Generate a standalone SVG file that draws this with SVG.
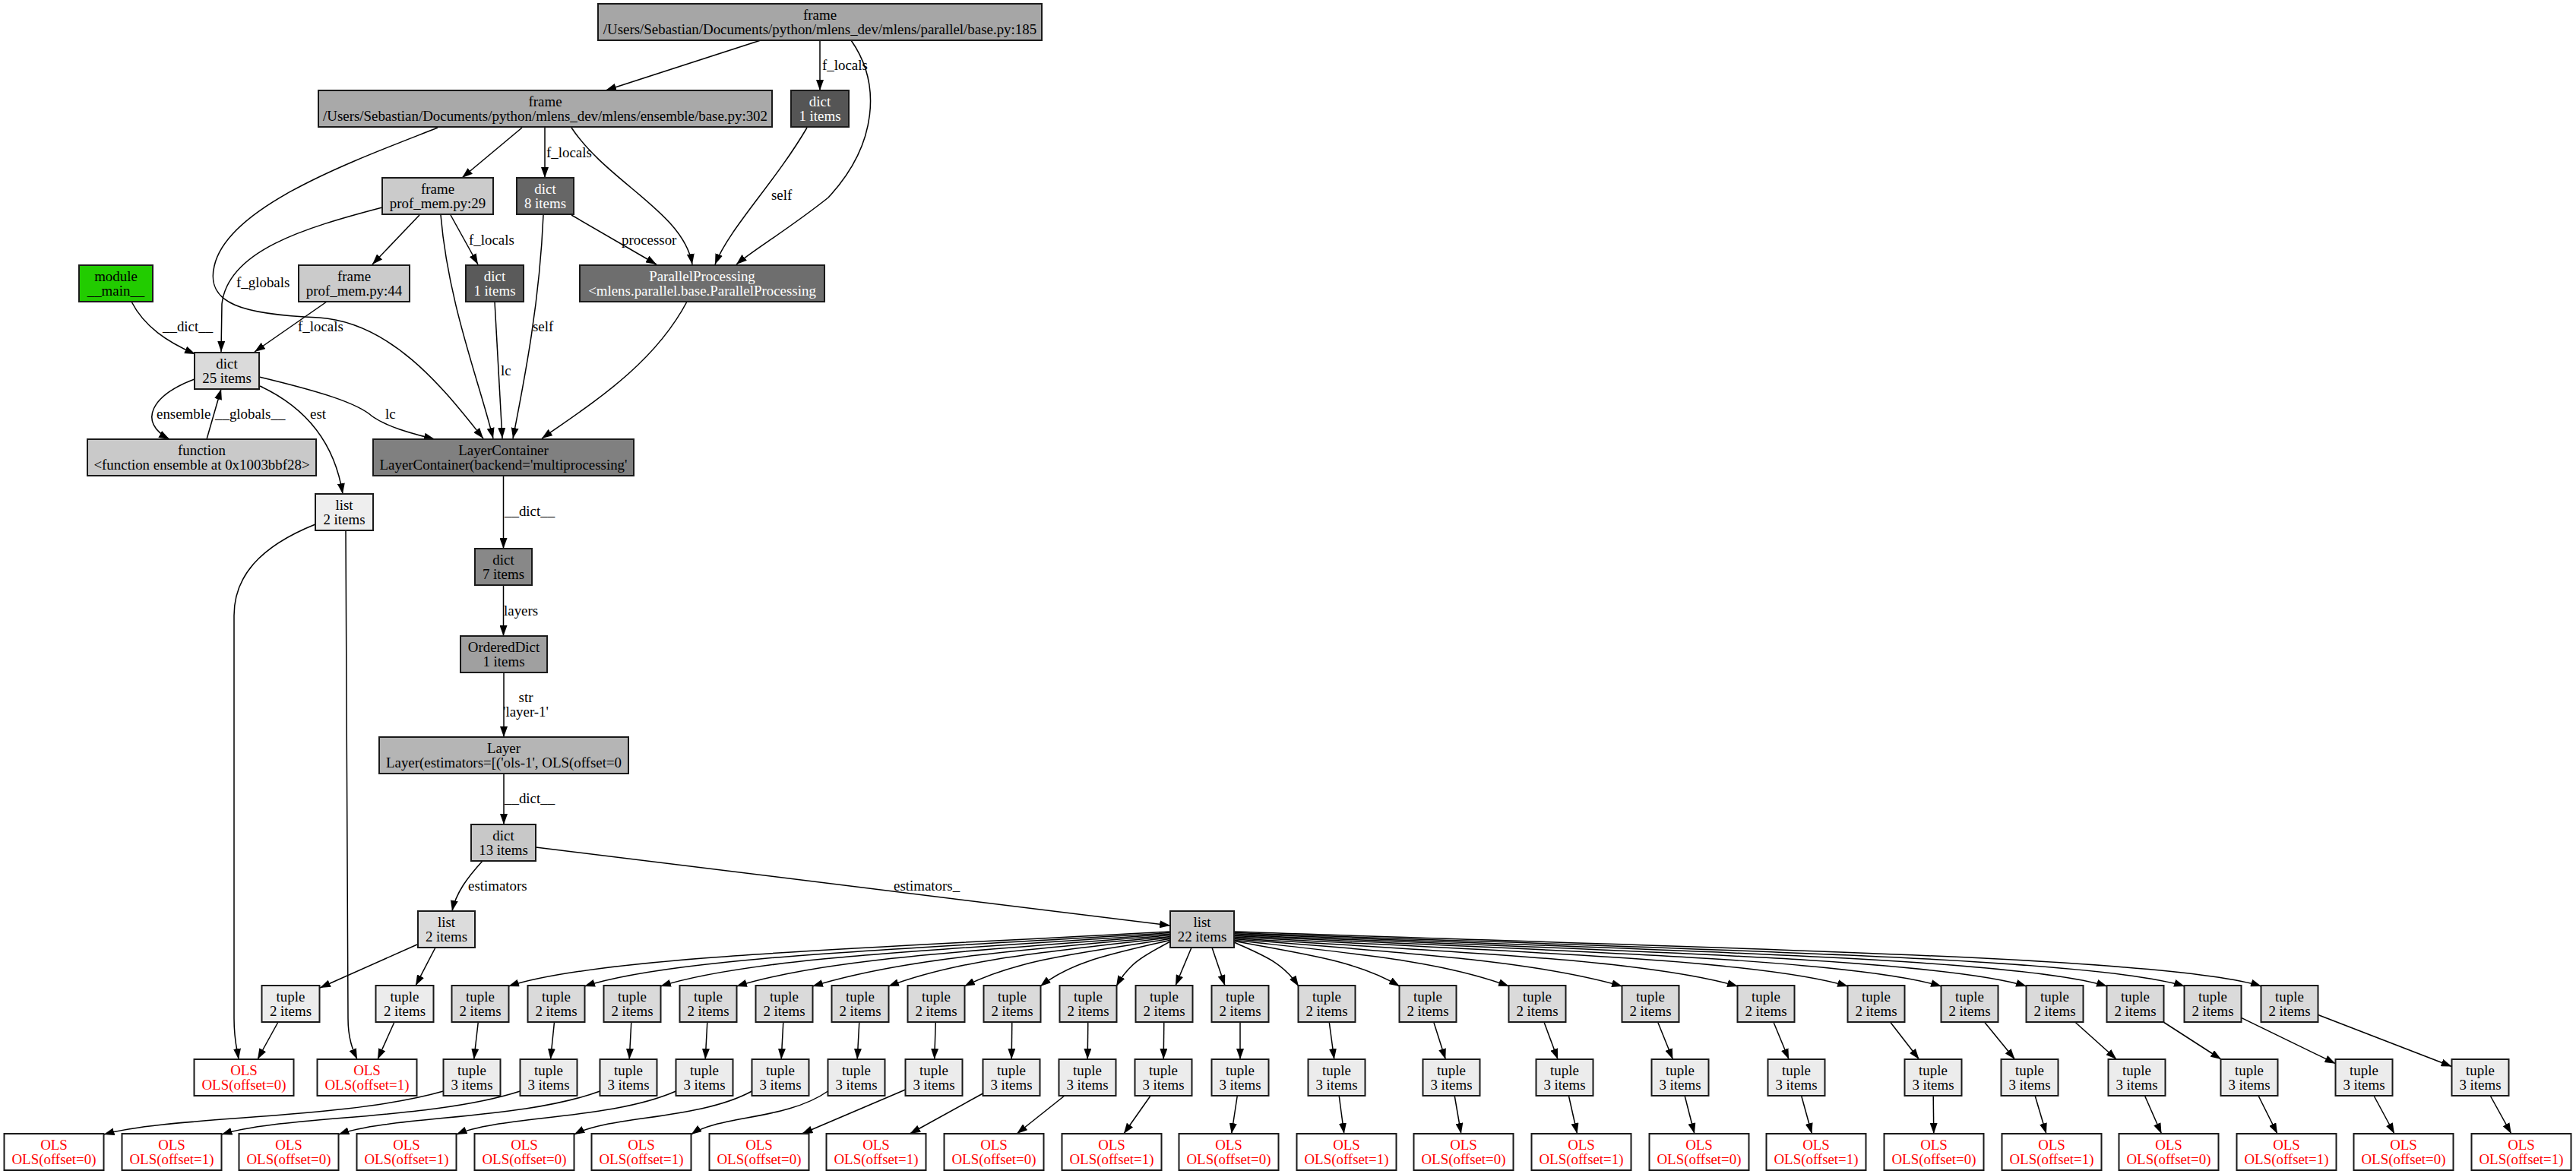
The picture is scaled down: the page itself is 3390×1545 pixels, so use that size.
<svg xmlns="http://www.w3.org/2000/svg" width="3390" height="1545" viewBox="0 0 3390 1545">
<defs>
<marker id="ah" markerWidth="14" markerHeight="10" refX="14" refY="5" orient="auto" markerUnits="userSpaceOnUse"><path d="M0,0 L14,5 L0,10 z" fill="#000"/></marker>
<style>
text{font-family:"Liberation Serif","Times New Roman",serif;font-size:18.9px;fill:#000}
.node rect{stroke:#1a1a1a;stroke-width:2}
.node text{text-anchor:middle}
.w text{fill:#fff}
.ols rect{fill:#fff}
.ols text{fill:#ff0000}
.t2 rect{fill:#dadada}
.t2l rect{fill:#ececec}
.t3 rect{fill:#ececec}
#edges path{fill:none;stroke:#000;stroke-width:1.5;marker-end:url(#ah)}
#edges text{text-anchor:start}
#edges text.m{text-anchor:middle}
</style>
</defs>
<rect width="3390" height="1545" fill="#fff"/>
<g id="edges">
<path d="M1001,53 L797,119"/>
<path d="M1079,53 L1079,119"/><text x="1082" y="92">f_locals</text>
<path d="M1120,53 C1160,110 1155,190 1090,260 C1040,300 990,330 969,348"/>
<path d="M576,168 C470,210 300,270 282,350 C270,400 320,414 420,418 C520,425 590,520 636,577"/>
<path d="M687,168 L608,234"/>
<path d="M717,168 L717,234"/><text x="719" y="207">f_locals</text>
<path d="M752,168 C800,240 900,280 911,348"/>
<path d="M1062,168 C1020,240 960,300 941,348"/><text x="1015" y="263">self</text>
<path d="M752,283 L864,348"/><text x="818" y="322">processor</text>
<path d="M715,283 C710,400 690,500 675,577"/><text x="701" y="436">self</text>
<path d="M552,283 L490,348"/>
<path d="M593,283 L629,348"/><text x="617" y="322">f_locals</text>
<path d="M580,283 C590,400 630,500 649,577"/>
<path d="M503,273 C400,300 300,330 292,400 L291,463"/><text x="311" y="378">f_globals</text>
<path d="M651,397 L661,577"/><text x="659" y="494">lc</text>
<path d="M904,397 C860,480 780,530 713,577"/>
<path d="M173,397 C190,430 220,450 257,466"/><text x="214" y="436">__dict__</text>
<path d="M430,397 L335,463"/><text x="392" y="436">f_locals</text>
<path d="M256,499 C200,520 180,555 223,578"/><text x="206" y="551">ensemble</text>
<path d="M272,578 L291,512"/><text x="283" y="551">__globals__</text>
<path d="M342,508 C400,535 440,580 451,650"/><text x="408" y="551">est</text>
<path d="M341,496 C420,515 470,530 490,548 C510,562 540,570 572,578"/><text x="507" y="551">lc</text>
<path d="M662.5,626 L662.5,722"/><text x="664" y="679">__dict__</text>
<path d="M662.5,770 L662.5,837"/><text x="663" y="810">layers</text>
<path d="M663,885 L663,970"/><text class="m" x="692" y="924">str</text><text class="m" x="692" y="943">'layer-1'</text>
<path d="M663,1018 L663,1085"/><text x="664" y="1057">__dict__</text>
<path d="M635,1133 C615,1155 600,1175 595,1199"/><text x="616" y="1172">estimators</text>
<path d="M705,1115 L1540,1218"/><text x="1176" y="1172">estimators_</text>
<path d="M415,690 C340,720 308,760 308,810 L308,1340 C308,1370 312,1380 314,1394"/>
<path d="M455,698 C457,800 458,1000 458,1340 C458,1370 466,1385 470,1394"/>
<path d="M549,1243 L421,1300"/>
<path d="M573,1247 L547,1297"/>
<path d="M366,1345 L339,1394"/>
<path d="M519,1345 L497,1394"/>
<path d="M1540,1226 C1148,1247.6 789,1258.4 669,1298"/>
<path d="M1540,1227.6 C1193,1248.7 889,1259.3 769,1298"/>
<path d="M1540,1229.2 C1238,1249.8 989,1260.2 869,1298"/>
<path d="M1540,1230.8 C1283,1251 1089,1261 969,1298"/>
<path d="M1540,1232.4 C1328,1252 1186.8,1262 1069,1298"/>
<path d="M1540,1234 C1373,1253 1261.8,1262.8 1169,1298"/>
<path d="M1540,1235.6 C1418,1254.3 1336.8,1263.7 1269,1298"/>
<path d="M1540,1237.2 C1463,1255.4 1411.8,1264.6 1369,1298"/>
<path d="M1540,1239 C1508,1256.7 1486.8,1265.6 1469,1298"/>
<path d="M1568,1247 L1547,1297"/>
<path d="M1595,1247 L1612,1297"/>
<path d="M1624,1240 C1662.3,1257.4 1687.8,1266.1 1709,1298"/>
<path d="M1624,1238.6 C1722.1,1256.4 1787.5,1265.3 1842,1298"/>
<path d="M1624,1237.2 C1786.9,1255.4 1895.5,1264.6 1986,1298"/>
<path d="M1624,1235.8 C1854,1254.5 2015,1263.8 2135,1298"/>
<path d="M1624,1234.4 C1922.4,1253.5 2167,1263 2287,1298"/>
<path d="M1624,1233 C1987.6,1252.5 2312,1262.3 2432,1298"/>
<path d="M1624,1231.6 C2043,1251.5 2435,1261.5 2555,1298"/>
<path d="M1624,1230.2 C2093.4,1250.5 2547,1260.7 2667,1298"/>
<path d="M1624,1228.8 C2141,1249.6 2653,1259.9 2773,1298"/>
<path d="M1624,1227.4 C2187,1248.6 2755,1259.2 2875,1298"/>
<path d="M1624,1226 C2232.4,1247.6 2856,1258.4 2976,1298"/>
<path d="M629.3,1345 L623.7,1394"/>
<path d="M729.5,1345 L724.5,1394"/>
<path d="M830.8,1345 L828.2,1394"/>
<path d="M930.8,1345 L928.2,1394"/>
<path d="M1030.8,1345 L1028.2,1394"/>
<path d="M1130.8,1345 L1128.2,1394"/>
<path d="M1231.3,1345 L1229.7,1394"/>
<path d="M1331.8,1345 L1331.2,1394"/>
<path d="M1431.8,1345 L1431.2,1394"/>
<path d="M1531.8,1345 L1531.2,1394"/>
<path d="M1632,1345 L1632,1394"/>
<path d="M1749.2,1345 L1755.8,1394"/>
<path d="M1886.7,1345 L1902.3,1394"/>
<path d="M2031.9,1345 L2050.1,1394"/>
<path d="M2181.6,1345 L2201.4,1394"/>
<path d="M2333.9,1345 L2354.1,1394"/>
<path d="M2487.5,1345 L2525.5,1394"/>
<path d="M2611.5,1345 L2651.5,1394"/>
<path d="M2730.7,1345 L2785.3,1394"/>
<path d="M2847,1345 L2923,1394"/>
<path d="M2949.5,1339.3 L3073.5,1399.7"/>
<path d="M3050.5,1335.5 L3226.5,1403.5"/>
<path d="M583.5,1436 C449.5,1474 225.5,1468 136.5,1493"/>
<path d="M684.5,1436 C566.6,1474 370.1,1468 291.5,1493"/>
<path d="M789.5,1436 C686.3,1474 514.3,1468 445.5,1493"/>
<path d="M889.5,1436 C802.8,1474 658.3,1468 600.5,1493"/>
<path d="M989.5,1436 C919.3,1474 802.3,1468 755.5,1493"/>
<path d="M1089.5,1436 C1035.5,1474 945.5,1468 909.5,1493"/>
<path d="M1191.5,1434 L1055.4,1492"/>
<path d="M1293.5,1439 L1197.4,1492"/>
<path d="M1400.9,1442 L1338.1,1492"/>
<path d="M1514.1,1442 L1478.9,1492"/>
<path d="M1628.3,1442 L1620.7,1492"/>
<path d="M1762.2,1442 L1768.8,1492"/>
<path d="M1914.2,1442 L1922.8,1492"/>
<path d="M2064.4,1442 L2075.6,1492"/>
<path d="M2217.1,1442 L2229.9,1492"/>
<path d="M2370.6,1442 L2384.4,1492"/>
<path d="M2544.2,1442 L2544.8,1492"/>
<path d="M2678.1,1442 L2692.9,1492"/>
<path d="M2822.5,1442 L2844.5,1492"/>
<path d="M2972,1442 L2997,1492"/>
<path d="M3124,1442 L3151,1492"/>
<path d="M3277.2,1442 L3304.8,1492"/>
</g>
<g id="n_frame185" class="node"><rect x="787" y="5" width="584" height="48" fill="#a6a6a6"/><text x="1079" y="25.5">frame</text><text x="1079" y="44.5">/Users/Sebastian/Documents/python/mlens_dev/mlens/parallel/base.py:185</text></g>
<g id="n_frame302" class="node"><rect x="419" y="119" width="597" height="48" fill="#a9a9a9"/><text x="717.5" y="139.5">frame</text><text x="717.5" y="158.5">/Users/Sebastian/Documents/python/mlens_dev/mlens/ensemble/base.py:302</text></g>
<g id="n_dict1a" class="node w"><rect x="1041" y="119" width="76" height="48" fill="#555555"/><text x="1079" y="139.5">dict</text><text x="1079" y="158.5">1 items</text></g>
<g id="n_prof29" class="node"><rect x="503" y="234" width="146" height="48" fill="#cbcbcb"/><text x="576" y="254.5">frame</text><text x="576" y="273.5">prof_mem.py:29</text></g>
<g id="n_dict8" class="node w"><rect x="680" y="234" width="75" height="48" fill="#666666"/><text x="717.5" y="254.5">dict</text><text x="717.5" y="273.5">8 items</text></g>
<g id="n_module" class="node"><rect x="104" y="349" width="97" height="48" fill="#22cc00"/><text x="152.5" y="369.5">module</text><text x="152.5" y="388.5">__main__</text></g>
<g id="n_prof44" class="node"><rect x="393" y="349" width="146" height="48" fill="#cbcbcb"/><text x="466" y="369.5">frame</text><text x="466" y="388.5">prof_mem.py:44</text></g>
<g id="n_dict1b" class="node w"><rect x="613" y="349" width="76" height="48" fill="#5a5a5a"/><text x="651" y="369.5">dict</text><text x="651" y="388.5">1 items</text></g>
<g id="n_pp" class="node w"><rect x="763" y="349" width="322" height="48" fill="#6e6e6e"/><text x="924" y="369.5">ParallelProcessing</text><text x="924" y="388.5">&lt;mlens.parallel.base.ParallelProcessing</text></g>
<g id="n_dict25" class="node"><rect x="256" y="464" width="85" height="48" fill="#dadada"/><text x="298.5" y="484.5">dict</text><text x="298.5" y="503.5">25 items</text></g>
<g id="n_function" class="node"><rect x="115" y="578" width="301" height="48" fill="#c9c9c9"/><text x="265.5" y="598.5">function</text><text x="265.5" y="617.5">&lt;function ensemble at 0x1003bbf28&gt;</text></g>
<g id="n_lc" class="node"><rect x="491" y="578" width="343" height="48" fill="#808080"/><text x="662.5" y="598.5">LayerContainer</text><text x="662.5" y="617.5">LayerContainer(backend='multiprocessing'</text></g>
<g id="n_list2a" class="node"><rect x="415" y="650" width="76" height="48" fill="#eeeeee"/><text x="453" y="670.5">list</text><text x="453" y="689.5">2 items</text></g>
<g id="n_dict7" class="node"><rect x="625" y="722" width="75" height="48" fill="#888888"/><text x="662.5" y="742.5">dict</text><text x="662.5" y="761.5">7 items</text></g>
<g id="n_od" class="node"><rect x="606" y="837" width="114" height="48" fill="#a0a0a0"/><text x="663" y="857.5">OrderedDict</text><text x="663" y="876.5">1 items</text></g>
<g id="n_layer" class="node"><rect x="499" y="970" width="328" height="48" fill="#b5b5b5"/><text x="663" y="990.5">Layer</text><text x="663" y="1009.5">Layer(estimators=[('ols-1', OLS(offset=0</text></g>
<g id="n_dict13" class="node"><rect x="620" y="1085" width="85" height="48" fill="#c8c8c8"/><text x="662.5" y="1105.5">dict</text><text x="662.5" y="1124.5">13 items</text></g>
<g id="n_list2b" class="node"><rect x="550" y="1199" width="75" height="48" fill="#dcdcdc"/><text x="587.5" y="1219.5">list</text><text x="587.5" y="1238.5">2 items</text></g>
<g id="n_list22" class="node"><rect x="1540" y="1199" width="84" height="48" fill="#cacaca"/><text x="1582" y="1219.5">list</text><text x="1582" y="1238.5">22 items</text></g>
<g id="n_tupA" class="node t2l"><rect x="344.5" y="1297" width="76" height="48"/><text x="382.5" y="1317.5">tuple</text><text x="382.5" y="1336.5">2 items</text></g>
<g id="n_tupB" class="node t2l"><rect x="494.5" y="1297" width="76" height="48"/><text x="532.5" y="1317.5">tuple</text><text x="532.5" y="1336.5">2 items</text></g>
<g id="n_olsA" class="node ols"><rect x="255.5" y="1394" width="131" height="48"/><text x="321" y="1414.5">OLS</text><text x="321" y="1433.5">OLS(offset=0)</text></g>
<g id="n_olsB" class="node ols"><rect x="417.5" y="1394" width="131" height="48"/><text x="483" y="1414.5">OLS</text><text x="483" y="1433.5">OLS(offset=1)</text></g>
<g id="n_t2_0" class="node t2"><rect x="594.5" y="1297" width="75" height="48"/><text x="632" y="1317.5">tuple</text><text x="632" y="1336.5">2 items</text></g>
<g id="n_t2_1" class="node t2"><rect x="694.5" y="1297" width="75" height="48"/><text x="732" y="1317.5">tuple</text><text x="732" y="1336.5">2 items</text></g>
<g id="n_t2_2" class="node t2"><rect x="794.5" y="1297" width="75" height="48"/><text x="832" y="1317.5">tuple</text><text x="832" y="1336.5">2 items</text></g>
<g id="n_t2_3" class="node t2"><rect x="894.5" y="1297" width="75" height="48"/><text x="932" y="1317.5">tuple</text><text x="932" y="1336.5">2 items</text></g>
<g id="n_t2_4" class="node t2"><rect x="994.5" y="1297" width="75" height="48"/><text x="1032" y="1317.5">tuple</text><text x="1032" y="1336.5">2 items</text></g>
<g id="n_t2_5" class="node t2"><rect x="1094.5" y="1297" width="75" height="48"/><text x="1132" y="1317.5">tuple</text><text x="1132" y="1336.5">2 items</text></g>
<g id="n_t2_6" class="node t2"><rect x="1194.5" y="1297" width="75" height="48"/><text x="1232" y="1317.5">tuple</text><text x="1232" y="1336.5">2 items</text></g>
<g id="n_t2_7" class="node t2"><rect x="1294.5" y="1297" width="75" height="48"/><text x="1332" y="1317.5">tuple</text><text x="1332" y="1336.5">2 items</text></g>
<g id="n_t2_8" class="node t2"><rect x="1394.5" y="1297" width="75" height="48"/><text x="1432" y="1317.5">tuple</text><text x="1432" y="1336.5">2 items</text></g>
<g id="n_t2_9" class="node t2"><rect x="1494.5" y="1297" width="75" height="48"/><text x="1532" y="1317.5">tuple</text><text x="1532" y="1336.5">2 items</text></g>
<g id="n_t2_10" class="node t2"><rect x="1594.5" y="1297" width="75" height="48"/><text x="1632" y="1317.5">tuple</text><text x="1632" y="1336.5">2 items</text></g>
<g id="n_t2_11" class="node t2"><rect x="1708.5" y="1297" width="75" height="48"/><text x="1746" y="1317.5">tuple</text><text x="1746" y="1336.5">2 items</text></g>
<g id="n_t2_12" class="node t2"><rect x="1841.5" y="1297" width="75" height="48"/><text x="1879" y="1317.5">tuple</text><text x="1879" y="1336.5">2 items</text></g>
<g id="n_t2_13" class="node t2"><rect x="1985.5" y="1297" width="75" height="48"/><text x="2023" y="1317.5">tuple</text><text x="2023" y="1336.5">2 items</text></g>
<g id="n_t2_14" class="node t2"><rect x="2134.5" y="1297" width="75" height="48"/><text x="2172" y="1317.5">tuple</text><text x="2172" y="1336.5">2 items</text></g>
<g id="n_t2_15" class="node t2"><rect x="2286.5" y="1297" width="75" height="48"/><text x="2324" y="1317.5">tuple</text><text x="2324" y="1336.5">2 items</text></g>
<g id="n_t2_16" class="node t2"><rect x="2431.5" y="1297" width="75" height="48"/><text x="2469" y="1317.5">tuple</text><text x="2469" y="1336.5">2 items</text></g>
<g id="n_t2_17" class="node t2"><rect x="2554.5" y="1297" width="75" height="48"/><text x="2592" y="1317.5">tuple</text><text x="2592" y="1336.5">2 items</text></g>
<g id="n_t2_18" class="node t2"><rect x="2666.5" y="1297" width="75" height="48"/><text x="2704" y="1317.5">tuple</text><text x="2704" y="1336.5">2 items</text></g>
<g id="n_t2_19" class="node t2"><rect x="2772.5" y="1297" width="75" height="48"/><text x="2810" y="1317.5">tuple</text><text x="2810" y="1336.5">2 items</text></g>
<g id="n_t2_20" class="node t2"><rect x="2874.5" y="1297" width="75" height="48"/><text x="2912" y="1317.5">tuple</text><text x="2912" y="1336.5">2 items</text></g>
<g id="n_t2_21" class="node t2"><rect x="2975.5" y="1297" width="75" height="48"/><text x="3013" y="1317.5">tuple</text><text x="3013" y="1336.5">2 items</text></g>
<g id="n_t3_0" class="node t3"><rect x="583.5" y="1394" width="75" height="48"/><text x="621" y="1414.5">tuple</text><text x="621" y="1433.5">3 items</text></g>
<g id="n_t3_1" class="node t3"><rect x="684.5" y="1394" width="75" height="48"/><text x="722" y="1414.5">tuple</text><text x="722" y="1433.5">3 items</text></g>
<g id="n_t3_2" class="node t3"><rect x="789.5" y="1394" width="75" height="48"/><text x="827" y="1414.5">tuple</text><text x="827" y="1433.5">3 items</text></g>
<g id="n_t3_3" class="node t3"><rect x="889.5" y="1394" width="75" height="48"/><text x="927" y="1414.5">tuple</text><text x="927" y="1433.5">3 items</text></g>
<g id="n_t3_4" class="node t3"><rect x="989.5" y="1394" width="75" height="48"/><text x="1027" y="1414.5">tuple</text><text x="1027" y="1433.5">3 items</text></g>
<g id="n_t3_5" class="node t3"><rect x="1089.5" y="1394" width="75" height="48"/><text x="1127" y="1414.5">tuple</text><text x="1127" y="1433.5">3 items</text></g>
<g id="n_t3_6" class="node t3"><rect x="1191.5" y="1394" width="75" height="48"/><text x="1229" y="1414.5">tuple</text><text x="1229" y="1433.5">3 items</text></g>
<g id="n_t3_7" class="node t3"><rect x="1293.5" y="1394" width="75" height="48"/><text x="1331" y="1414.5">tuple</text><text x="1331" y="1433.5">3 items</text></g>
<g id="n_t3_8" class="node t3"><rect x="1393.5" y="1394" width="75" height="48"/><text x="1431" y="1414.5">tuple</text><text x="1431" y="1433.5">3 items</text></g>
<g id="n_t3_9" class="node t3"><rect x="1493.5" y="1394" width="75" height="48"/><text x="1531" y="1414.5">tuple</text><text x="1531" y="1433.5">3 items</text></g>
<g id="n_t3_10" class="node t3"><rect x="1594.5" y="1394" width="75" height="48"/><text x="1632" y="1414.5">tuple</text><text x="1632" y="1433.5">3 items</text></g>
<g id="n_t3_11" class="node t3"><rect x="1721.5" y="1394" width="75" height="48"/><text x="1759" y="1414.5">tuple</text><text x="1759" y="1433.5">3 items</text></g>
<g id="n_t3_12" class="node t3"><rect x="1872.5" y="1394" width="75" height="48"/><text x="1910" y="1414.5">tuple</text><text x="1910" y="1433.5">3 items</text></g>
<g id="n_t3_13" class="node t3"><rect x="2021.5" y="1394" width="75" height="48"/><text x="2059" y="1414.5">tuple</text><text x="2059" y="1433.5">3 items</text></g>
<g id="n_t3_14" class="node t3"><rect x="2173.5" y="1394" width="75" height="48"/><text x="2211" y="1414.5">tuple</text><text x="2211" y="1433.5">3 items</text></g>
<g id="n_t3_15" class="node t3"><rect x="2326.5" y="1394" width="75" height="48"/><text x="2364" y="1414.5">tuple</text><text x="2364" y="1433.5">3 items</text></g>
<g id="n_t3_16" class="node t3"><rect x="2506.5" y="1394" width="75" height="48"/><text x="2544" y="1414.5">tuple</text><text x="2544" y="1433.5">3 items</text></g>
<g id="n_t3_17" class="node t3"><rect x="2633.5" y="1394" width="75" height="48"/><text x="2671" y="1414.5">tuple</text><text x="2671" y="1433.5">3 items</text></g>
<g id="n_t3_18" class="node t3"><rect x="2774.5" y="1394" width="75" height="48"/><text x="2812" y="1414.5">tuple</text><text x="2812" y="1433.5">3 items</text></g>
<g id="n_t3_19" class="node t3"><rect x="2922.5" y="1394" width="75" height="48"/><text x="2960" y="1414.5">tuple</text><text x="2960" y="1433.5">3 items</text></g>
<g id="n_t3_20" class="node t3"><rect x="3073.5" y="1394" width="75" height="48"/><text x="3111" y="1414.5">tuple</text><text x="3111" y="1433.5">3 items</text></g>
<g id="n_t3_21" class="node t3"><rect x="3226.5" y="1394" width="75" height="48"/><text x="3264" y="1414.5">tuple</text><text x="3264" y="1433.5">3 items</text></g>
<g id="n_ols_0" class="node ols"><rect x="5.5" y="1492" width="131" height="48"/><text x="71" y="1512.5">OLS</text><text x="71" y="1531.5">OLS(offset=0)</text></g>
<g id="n_ols_1" class="node ols"><rect x="160.5" y="1492" width="131" height="48"/><text x="226" y="1512.5">OLS</text><text x="226" y="1531.5">OLS(offset=1)</text></g>
<g id="n_ols_2" class="node ols"><rect x="314.5" y="1492" width="131" height="48"/><text x="380" y="1512.5">OLS</text><text x="380" y="1531.5">OLS(offset=0)</text></g>
<g id="n_ols_3" class="node ols"><rect x="469.5" y="1492" width="131" height="48"/><text x="535" y="1512.5">OLS</text><text x="535" y="1531.5">OLS(offset=1)</text></g>
<g id="n_ols_4" class="node ols"><rect x="624.5" y="1492" width="131" height="48"/><text x="690" y="1512.5">OLS</text><text x="690" y="1531.5">OLS(offset=0)</text></g>
<g id="n_ols_5" class="node ols"><rect x="778.5" y="1492" width="131" height="48"/><text x="844" y="1512.5">OLS</text><text x="844" y="1531.5">OLS(offset=1)</text></g>
<g id="n_ols_6" class="node ols"><rect x="933.5" y="1492" width="131" height="48"/><text x="999" y="1512.5">OLS</text><text x="999" y="1531.5">OLS(offset=0)</text></g>
<g id="n_ols_7" class="node ols"><rect x="1087.5" y="1492" width="131" height="48"/><text x="1153" y="1512.5">OLS</text><text x="1153" y="1531.5">OLS(offset=1)</text></g>
<g id="n_ols_8" class="node ols"><rect x="1242.5" y="1492" width="131" height="48"/><text x="1308" y="1512.5">OLS</text><text x="1308" y="1531.5">OLS(offset=0)</text></g>
<g id="n_ols_9" class="node ols"><rect x="1397.5" y="1492" width="131" height="48"/><text x="1463" y="1512.5">OLS</text><text x="1463" y="1531.5">OLS(offset=1)</text></g>
<g id="n_ols_10" class="node ols"><rect x="1551.5" y="1492" width="131" height="48"/><text x="1617" y="1512.5">OLS</text><text x="1617" y="1531.5">OLS(offset=0)</text></g>
<g id="n_ols_11" class="node ols"><rect x="1706.5" y="1492" width="131" height="48"/><text x="1772" y="1512.5">OLS</text><text x="1772" y="1531.5">OLS(offset=1)</text></g>
<g id="n_ols_12" class="node ols"><rect x="1860.5" y="1492" width="131" height="48"/><text x="1926" y="1512.5">OLS</text><text x="1926" y="1531.5">OLS(offset=0)</text></g>
<g id="n_ols_13" class="node ols"><rect x="2015.5" y="1492" width="131" height="48"/><text x="2081" y="1512.5">OLS</text><text x="2081" y="1531.5">OLS(offset=1)</text></g>
<g id="n_ols_14" class="node ols"><rect x="2170.5" y="1492" width="131" height="48"/><text x="2236" y="1512.5">OLS</text><text x="2236" y="1531.5">OLS(offset=0)</text></g>
<g id="n_ols_15" class="node ols"><rect x="2324.5" y="1492" width="131" height="48"/><text x="2390" y="1512.5">OLS</text><text x="2390" y="1531.5">OLS(offset=1)</text></g>
<g id="n_ols_16" class="node ols"><rect x="2479.5" y="1492" width="131" height="48"/><text x="2545" y="1512.5">OLS</text><text x="2545" y="1531.5">OLS(offset=0)</text></g>
<g id="n_ols_17" class="node ols"><rect x="2634.5" y="1492" width="131" height="48"/><text x="2700" y="1512.5">OLS</text><text x="2700" y="1531.5">OLS(offset=1)</text></g>
<g id="n_ols_18" class="node ols"><rect x="2788.5" y="1492" width="131" height="48"/><text x="2854" y="1512.5">OLS</text><text x="2854" y="1531.5">OLS(offset=0)</text></g>
<g id="n_ols_19" class="node ols"><rect x="2943.5" y="1492" width="131" height="48"/><text x="3009" y="1512.5">OLS</text><text x="3009" y="1531.5">OLS(offset=1)</text></g>
<g id="n_ols_20" class="node ols"><rect x="3097.5" y="1492" width="131" height="48"/><text x="3163" y="1512.5">OLS</text><text x="3163" y="1531.5">OLS(offset=0)</text></g>
<g id="n_ols_21" class="node ols"><rect x="3252.5" y="1492" width="131" height="48"/><text x="3318" y="1512.5">OLS</text><text x="3318" y="1531.5">OLS(offset=1)</text></g>
</svg>
